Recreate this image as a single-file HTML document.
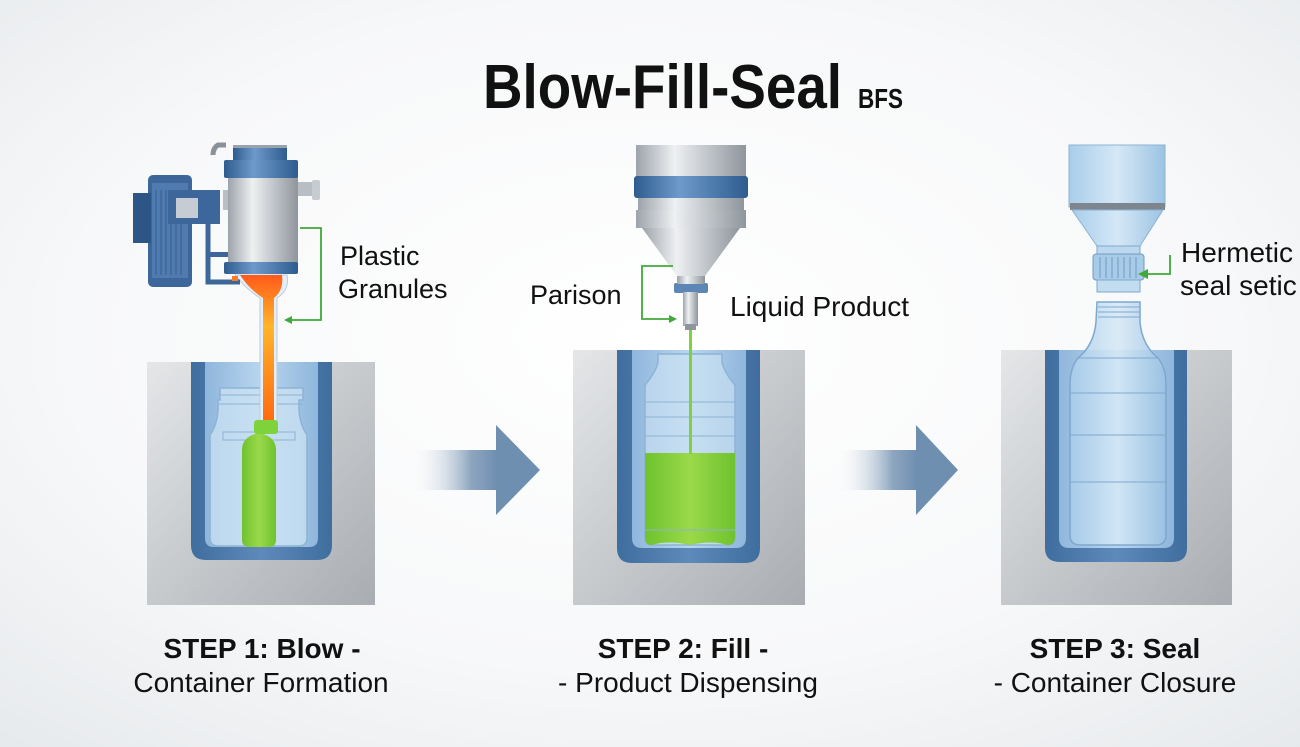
<!DOCTYPE html>
<html><head><meta charset="utf-8"><style>
html,body{margin:0;padding:0;width:1300px;height:747px;overflow:hidden;}
svg{display:block;}
text{font-family:"Liberation Sans",sans-serif;fill:#111;}
</style></head><body>
<svg width="1300" height="747" viewBox="0 0 1300 747" xmlns="http://www.w3.org/2000/svg">
<defs>
<radialGradient id="bg" cx="50%" cy="45%" r="75%">
<stop offset="0" stop-color="#ffffff"/><stop offset="0.6" stop-color="#f7f8f9"/><stop offset="1" stop-color="#e6e9ec"/>
</radialGradient>
<linearGradient id="mold" x1="0" y1="0" x2="1" y2="1">
<stop offset="0" stop-color="#e4e6e8"/><stop offset="1" stop-color="#a9adb1"/>
</linearGradient>
<linearGradient id="moldblue" x1="0" y1="0" x2="1" y2="0">
<stop offset="0" stop-color="#3f6d9e"/><stop offset="0.5" stop-color="#5d8abb"/><stop offset="1" stop-color="#3f6d9e"/>
</linearGradient>
<linearGradient id="inner" x1="0" y1="0" x2="1" y2="0">
<stop offset="0" stop-color="#8fb6dc"/><stop offset="0.5" stop-color="#b9d6ef"/><stop offset="1" stop-color="#8fb6dc"/>
</linearGradient>
<linearGradient id="metal" x1="0" y1="0" x2="1" y2="0">
<stop offset="0" stop-color="#9da3aa"/><stop offset="0.35" stop-color="#eef0f2"/><stop offset="1" stop-color="#8e959c"/>
</linearGradient>
<linearGradient id="blueband" x1="0" y1="0" x2="1" y2="0">
<stop offset="0" stop-color="#2f5c8f"/><stop offset="0.4" stop-color="#6d9acb"/><stop offset="1" stop-color="#2f5c8f"/>
</linearGradient>
<linearGradient id="orange" x1="0" y1="0" x2="0" y2="1">
<stop offset="0" stop-color="#ff5a1a"/><stop offset="0.35" stop-color="#ffb52a"/><stop offset="0.7" stop-color="#ff8a1c"/><stop offset="1" stop-color="#ff6a10"/>
</linearGradient>
<linearGradient id="green" x1="0" y1="0" x2="1" y2="0">
<stop offset="0" stop-color="#6fc22e"/><stop offset="0.5" stop-color="#9ad94a"/><stop offset="1" stop-color="#6fc22e"/>
</linearGradient>
<linearGradient id="arr" x1="0" y1="0" x2="1" y2="0">
<stop offset="0" stop-color="#ffffff" stop-opacity="0"/><stop offset="0.7" stop-color="#8ea6c0"/><stop offset="1" stop-color="#6f8fb1"/>
</linearGradient>
<linearGradient id="bottle" x1="0" y1="0" x2="1" y2="0">
<stop offset="0" stop-color="#a9cdea"/><stop offset="0.5" stop-color="#d5e8f6"/><stop offset="1" stop-color="#9cc3e3"/>
</linearGradient>
</defs>
<rect width="1300" height="747" fill="url(#bg)"/>

<text x="483" y="108" font-size="62" font-weight="bold" textLength="359" lengthAdjust="spacingAndGlyphs">Blow-Fill-Seal</text>
<text x="858" y="108" font-size="28" font-weight="bold" textLength="45" lengthAdjust="spacingAndGlyphs">BFS</text>

<!-- ===== STEP 1 ===== -->
<rect x="147" y="362" width="228" height="243" fill="url(#mold)"/>
<path d="M191 362 H332 V545 Q332 560 317 560 H206 Q191 560 191 545 Z" fill="url(#moldblue)"/>
<path d="M205 362 H318 V538 Q318 547 309 547 H214 Q205 547 205 538 Z" fill="url(#inner)"/>
<path d="M220 388 H303 V400 H299 V410 Q300 425 307 435 V538 Q307 546 299 546 H218 Q210 546 210 538 V435 Q217 425 218 410 V400 H220 Z" fill="#cfe4f4" fill-opacity="0.7" stroke="#8db3d4" stroke-width="1.5"/>
<line x1="218" y1="395" x2="303" y2="395" stroke="#8db3d4"/>
<line x1="218" y1="404" x2="303" y2="404" stroke="#8db3d4"/>
<rect x="223" y="432" width="72" height="8" fill="none" stroke="#8db3d4"/>
<path d="M235 275 H287 Q290 290 277 298 V422 H260 V298 Q247 290 235 275 Z" fill="#e4eef6" stroke="#b9cde0"/>
<path d="M240 275 H282 Q284 290 274 298 V422 H263 V298 Q250 290 240 275 Z" fill="url(#orange)"/>
<rect x="254" y="420" width="24" height="14" rx="3" fill="#7ed23a"/>
<path d="M242 450 Q242 438 255 434 H263 Q276 438 276 450 V540 Q276 547 268 547 H250 Q242 547 242 540 Z" fill="url(#green)"/>
<path d="M213 155 Q213 148 218 145 H226" fill="none" stroke="#8a9199" stroke-width="5"/>
<rect x="148" y="175" width="44" height="112" rx="5" fill="#3d679a"/>
<rect x="133" y="193" width="18" height="50" fill="#2d5585"/>
<rect x="152" y="183" width="36" height="95" fill="#4f7bb0"/>
<g stroke="#365f92" stroke-width="1"><line x1="156" y1="190" x2="156" y2="275"/><line x1="161" y1="190" x2="161" y2="275"/><line x1="166" y1="190" x2="166" y2="275"/><line x1="171" y1="190" x2="171" y2="275"/><line x1="176" y1="190" x2="176" y2="275"/><line x1="181" y1="190" x2="181" y2="275"/></g>
<rect x="168" y="190" width="52" height="34" fill="#3d679a"/>
<rect x="176" y="198" width="22" height="20" fill="#c5ccd4"/>
<path d="M208 222 V282 H240" fill="none" stroke="#3d679a" stroke-width="5"/>
<rect x="208" y="252" width="20" height="5" fill="#3d679a"/>
<rect x="232" y="276" width="6" height="5" fill="#ff7a20"/>
<rect x="223" y="190" width="12" height="20" fill="#b9bec4"/>
<rect x="296" y="182" width="18" height="14" fill="#b9bec4"/>
<rect x="312" y="180" width="8" height="20" rx="2" fill="#c7ccd1"/>
<rect x="228" y="175" width="70" height="90" fill="url(#metal)"/>
<rect x="233" y="145" width="54" height="15" fill="url(#blueband)"/>
<rect x="233" y="145" width="54" height="3" fill="#9aa2aa"/>
<rect x="224" y="160" width="74" height="18" rx="2" fill="url(#blueband)"/>
<rect x="224" y="262" width="74" height="12" rx="2" fill="url(#blueband)"/>
<path d="M300 228 H321 V320 H290" fill="none" stroke="#3fa93a" stroke-width="1.8"/>
<path d="M284 320 L292 316 L292 324 Z" fill="#3fa93a"/>
<text x="340" y="265" font-size="27">Plastic</text>
<text x="338" y="298" font-size="27">Granules</text>

<rect x="410" y="450" width="87" height="40" fill="url(#arr)"/>
<path d="M496 425 L540 470 L496 515 Z" fill="#6f8fb1"/>

<!-- ===== STEP 2 ===== -->
<rect x="573" y="350" width="232" height="255" fill="url(#mold)"/>
<path d="M617 350 H760 V548 Q760 563 745 563 H632 Q617 563 617 548 Z" fill="url(#moldblue)"/>
<path d="M632 350 H746 V538 Q746 548 736 548 H642 Q632 548 632 538 Z" fill="url(#inner)"/>
<path d="M660 354 H722 V362 Q724 372 735 385 V538 Q735 545 727 545 H652 Q645 545 645 538 V385 Q656 372 658 362 V354 Z" fill="#cfe4f4" fill-opacity="0.6" stroke="#8db3d4" stroke-width="1.5"/>
<path d="M645 453 H735 V538 Q735 545 727 545 Q712 540 690 545 Q668 540 652 545 Q645 545 645 538 Z" fill="url(#green)"/>
<g stroke="#8db3d4"><line x1="645" y1="402" x2="735" y2="402"/><line x1="645" y1="417" x2="735" y2="417"/><line x1="645" y1="436" x2="735" y2="436"/><line x1="645" y1="530" x2="735" y2="530"/></g>
<rect x="689" y="330" width="3" height="124" fill="#7ed23a"/>
<rect x="636" y="145" width="110" height="33" fill="url(#metal)"/>
<rect x="634" y="176" width="114" height="22" rx="3" fill="url(#blueband)"/>
<rect x="638" y="198" width="106" height="12" fill="url(#metal)"/>
<rect x="636" y="210" width="110" height="18" fill="url(#metal)"/>
<path d="M642 228 H740 L705 276 H677 Z" fill="url(#metal)"/>
<rect x="674" y="283" width="34" height="10" rx="2" fill="#5c86b5"/>
<rect x="677" y="276" width="28" height="8" fill="url(#metal)"/>
<rect x="683" y="292" width="15" height="34" fill="url(#metal)"/>
<rect x="685" y="324" width="11" height="6" fill="#8e959c"/>
<path d="M673 266 H642 V319 H670" fill="none" stroke="#3fa93a" stroke-width="1.8"/>
<path d="M677 319 L669 315 L669 323 Z" fill="#3fa93a"/>
<text x="530" y="304" font-size="27">Parison</text>
<text x="730" y="316" font-size="28">Liquid Product</text>

<rect x="835" y="450" width="82" height="40" fill="url(#arr)"/>
<path d="M916 425 L958 470 L916 515 Z" fill="#6f8fb1"/>

<!-- ===== STEP 3 ===== -->
<rect x="1001" y="350" width="231" height="255" fill="url(#mold)"/>
<path d="M1045 350 H1187 V548 Q1187 562 1172 562 H1060 Q1045 562 1045 548 Z" fill="url(#moldblue)"/>
<path d="M1059 350 H1174 V538 Q1174 548 1164 548 H1069 Q1059 548 1059 538 Z" fill="url(#inner)"/>
<path d="M1097 302 H1140 V322 Q1142 345 1158 358 Q1166 368 1166 385 V535 Q1166 545 1156 545 H1080 Q1070 545 1070 535 V385 Q1070 368 1078 358 Q1094 345 1096 322 Z" fill="url(#bottle)" fill-opacity="0.85" stroke="#7fa8cf" stroke-width="1.5"/>
<g stroke="#7fa8cf"><line x1="1098" y1="307" x2="1140" y2="307"/><line x1="1098" y1="312" x2="1140" y2="312"/><line x1="1098" y1="317" x2="1140" y2="317"/><line x1="1078" y1="358" x2="1158" y2="358"/><line x1="1070" y1="393" x2="1166" y2="393"/><line x1="1070" y1="435" x2="1166" y2="435"/><line x1="1070" y1="482" x2="1166" y2="482"/></g>
<rect x="1069" y="145" width="96" height="62" fill="url(#bottle)" stroke="#8db3d4"/>
<rect x="1070" y="203" width="95" height="7" fill="#7d858e"/>
<path d="M1072 210 H1163 L1140 246 H1097 Z" fill="url(#bottle)" stroke="#8db3d4"/>
<rect x="1097" y="246" width="43" height="8" fill="#bcd8ee" stroke="#7fa8cf"/>
<rect x="1093" y="254" width="51" height="26" rx="3" fill="#a8cbe8" stroke="#6f9bc5"/>
<g stroke="#6f9bc5"><line x1="1100" y1="257" x2="1100" y2="278"/><line x1="1106" y1="257" x2="1106" y2="278"/><line x1="1112" y1="257" x2="1112" y2="278"/><line x1="1118" y1="257" x2="1118" y2="278"/><line x1="1124" y1="257" x2="1124" y2="278"/><line x1="1130" y1="257" x2="1130" y2="278"/><line x1="1136" y1="257" x2="1136" y2="278"/></g>
<rect x="1097" y="280" width="43" height="12" fill="#c2dcf0" stroke="#7fa8cf"/>
<path d="M1170 255 V274 H1146" fill="none" stroke="#3fa93a" stroke-width="1.8"/>
<path d="M1138 274 L1148 269 L1148 279 Z" fill="#3fa93a"/>
<text x="1181" y="262" font-size="28">Hermetic</text>
<text x="1180" y="295" font-size="28">seal setic</text>

<text x="262" y="658" font-size="28" font-weight="bold" text-anchor="middle">STEP 1: Blow -</text>
<text x="261" y="692" font-size="28" text-anchor="middle" fill="#222">Container Formation</text>
<text x="683" y="658" font-size="28" font-weight="bold" text-anchor="middle">STEP 2: Fill -</text>
<text x="688" y="692" font-size="28" text-anchor="middle" fill="#222">- Product Dispensing</text>
<text x="1115" y="658" font-size="28" font-weight="bold" text-anchor="middle">STEP 3: Seal</text>
<text x="1115" y="692" font-size="28" text-anchor="middle" fill="#222">- Container Closure</text>
</svg>
</body></html>
